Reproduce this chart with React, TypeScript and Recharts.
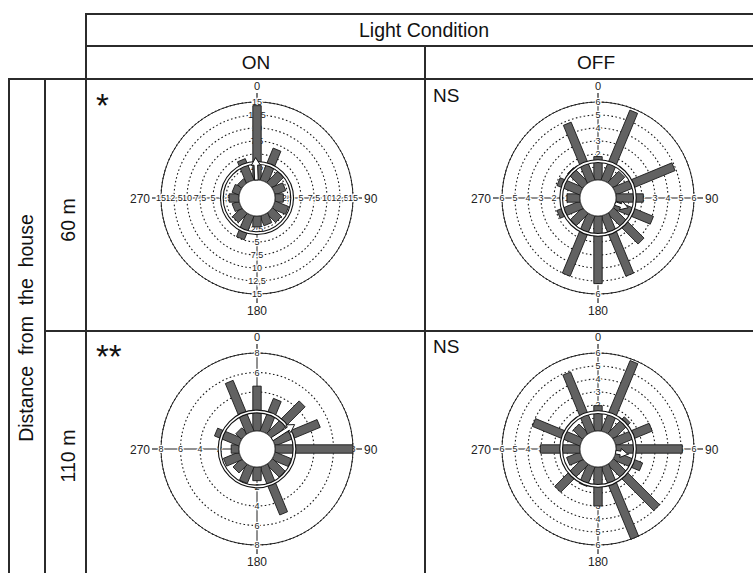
import React from 'react';
import { RadarChart, Radar, PolarGrid, PolarAngleAxis, PolarRadiusAxis } from 'recharts';

// ---------- data ----------
const directions = ['0', '22.5', '45', '67.5', '90', '112.5', '135', '157.5', '180', '202.5', '225', '247.5', '270', '292.5', '315', '337.5'];

const on60Counts = [14.3, 6.6, 3.3, 2.2, 1.6, 2.8, 2.4, 2.0, 2.1, 4.9, 2.4, 1.4, 1.9, 1.4, 1.0, 4.4];
const off60Counts = [1.8, 5.8, 1.2, 4.9, 2.1, 3.1, 3.3, 5.0, 5.2, 5.0, 1.3, 1.9, 1.0, 1.9, 1.6, 4.8];
const on110Counts = [4.6, 3.6, 4.7, 5.0, 8.0, 1.8, 1.8, 5.3, 1.4, 1.8, 1.2, 1.7, 0.8, 2.7, 0.8, 5.6];
const off110Counts = [1.95, 5.85, 1.8, 3.0, 5.1, 2.2, 5.0, 6.0, 3.0, 1.6, 3.0, 1.1, 3.05, 3.95, 1.0, 4.9];

const on60Ticks = [0, 2.5, 5, 7.5, 10, 12.5, 15];
const off60Ticks = [0, 1, 2, 3, 4, 5, 6];
const on110Ticks = [0, 2, 4, 6, 8];
const off110Ticks = [0, 1, 2, 3, 4, 5, 6];

const axisMaxima = [15, 6, 8, 6];
const ringValues = [3.3, 1.45, 2.0, 1.45];
const meanDirections = [358, 108, 57, 100];
const meanLengths = [4.3, 1.05, 2.75, 0.95];
const significance = ['*', 'NS', '**', 'NS'];
const cardinalLabels = ['0', '90', '180', '270'];

const columnLabels = ['ON', 'OFF'];
const rowLabels = ['60 m', '110 m'];
const headerTitle = 'Light Condition';
const sideTitle = 'Distance  from  the  house';

// ---------- layout ----------
const FONT = '"Liberation Sans", Arial, sans-serif';
const INNER = 18;
const OUTER = 96;
const BAR_W = 8.4;
const CHART = 260;
const MID = CHART / 2;
const panelCenters = [
  [257, 198],
  [598, 198],
  [257, 449],
  [598, 449],
];
const markPos = [
  [96, 117],
  [433, 102],
  [96, 368],
  [433, 353],
];

const countsByPanel = [on60Counts, off60Counts, on110Counts, off110Counts];
const ticksByPanel = [on60Ticks, off60Ticks, on110Ticks, off110Ticks];

const BarsShape = (props: any) => {
  const pts = props.points || [];
  return (
    <g>
      {pts.map((p: any, i: number) => {
        const a = (p.angle * Math.PI) / 180;
        const ux = Math.cos(a);
        const uy = -Math.sin(a);
        const px = -uy;
        const py = ux;
        const h = BAR_W / 2;
        const bx = p.cx + ux * INNER;
        const by = p.cy + uy * INNER;
        const d = `M${bx + px * h},${by + py * h} L${p.x + px * h},${p.y + py * h} L${p.x - px * h},${p.y - py * h} L${bx - px * h},${by - py * h} Z`;
        return <path key={i} d={d} fill="#626262" stroke="#1a1a1a" strokeWidth={0.9} />;
      })}
    </g>
  );
};

const makeRingShape = (idx: number) => (props: any) => {
  const p = props.points && props.points[0];
  if (!p) return <g />;
  const { cx, cy, radius } = p;
  const perUnit = (radius - INNER) / ringValues[idx];
  const tipR = INNER + perUnit * meanLengths[idx];
  const th = (meanDirections[idx] * Math.PI) / 180;
  const ux = Math.sin(th);
  const uy = -Math.cos(th);
  const px = -uy;
  const py = ux;
  const headL = 7.5;
  const shaftH = 1.8;
  const headH = 4.5;
  const pt = (r: number, off: number) => `${cx + ux * r + px * off},${cy + uy * r + py * off}`;
  const neck = tipR - headL;
  const arrow = `M${pt(INNER, shaftH)} L${pt(neck, shaftH)} L${pt(neck, headH)} L${pt(tipR, 0)} L${pt(neck, -headH)} L${pt(neck, -shaftH)} L${pt(INNER, -shaftH)} Z`;
  return (
    <g>
      <circle cx={cx} cy={cy} r={radius} fill="none" stroke="#111" strokeWidth={3.8} />
      <circle cx={cx} cy={cy} r={radius} fill="none" stroke="#fff" strokeWidth={1.6} />
      <circle cx={cx} cy={cy} r={INNER} fill="#fff" stroke="#333" strokeWidth={0.8} />
      <path d={arrow} fill="#fff" stroke="#111" strokeWidth={1} />
    </g>
  );
};

const AngleTick = (props: any) => {
  const { x, y, payload } = props;
  const v = payload && payload.value;
  if (!cardinalLabels.includes(v)) return <g />;
  const L = 9;
  const common = { fontSize: 12, fill: '#222', fontFamily: FONT } as any;
  if (v === '0')
    return (
      <g>
        <line x1={x} y1={y} x2={x} y2={y + L} stroke="#222" strokeWidth={1.2} />
        <text x={x} y={y - 3} textAnchor="middle" {...common} fontSize={11}>0</text>
      </g>
    );
  if (v === '180')
    return (
      <g>
        <line x1={x} y1={y - L} x2={x} y2={y} stroke="#222" strokeWidth={1.2} />
        <text x={x} y={y + 12} textAnchor="middle" {...common}>180</text>
      </g>
    );
  if (v === '90')
    return (
      <g>
        <line x1={x - L} y1={y} x2={x} y2={y} stroke="#222" strokeWidth={1.2} />
        <text x={x + 2} y={y + 4.5} textAnchor="start" {...common}>90</text>
      </g>
    );
  return (
    <g>
      <line x1={x} y1={y} x2={x + L} y2={y} stroke="#222" strokeWidth={1.2} />
      <text x={x - 2} y={y + 4.5} textAnchor="end" {...common}>270</text>
    </g>
  );
};

// the axis sits at 90 degrees; its tick label is repeated on the other three cardinal spokes
const RadiusTick = (props: any) => {
  const { x, y, payload } = props;
  if (!payload || payload.value === 0) return <g />;
  const label = String(payload.value).replace('.', ',');
  const r = MID - y;
  const spots = [
    [x, y],
    [MID + r, MID],
    [MID, MID + r],
    [MID - r, MID],
  ];
  return (
    <g>
      {spots.map((s, k) => (
        <text
          key={k}
          x={s[0]}
          y={s[1] + 3}
          textAnchor="middle"
          fontSize={9}
          fill="#222"
          stroke="#fff"
          strokeWidth={2.4}
          paintOrder="stroke"
          fontFamily={FONT}
        >
          {label}
        </text>
      ))}
    </g>
  );
};

const Panel = ({ idx }: { idx: number }) => {
  const rows = directions.map((d, i) => ({ dir: d, count: countsByPanel[idx][i], ring: ringValues[idx] }));
  const max = axisMaxima[idx];
  const [cx, cy] = panelCenters[idx];
  return (
    <div style={{ position: 'absolute', left: cx - MID, top: cy - MID, width: CHART, height: CHART }}>
      <RadarChart width={CHART} height={CHART} data={rows} innerRadius={INNER} outerRadius={OUTER} startAngle={90} endAngle={-270}>
        <PolarGrid gridType="circle" radialLines={false} stroke="#1a1a1a" strokeWidth={1.1} strokeDasharray="1.6 2.4" />
        <PolarGrid gridType="circle" polarRadius={[]} polarAngles={[0, 90, 180, 270]} radialLines={true} stroke="#222" strokeWidth={1} />
        <PolarAngleAxis
          dataKey="dir"
          axisLineType="circle"
          axisLine={{ stroke: '#222', strokeWidth: 1 }}
          tickLine={false}
          tickSize={9}
          tick={(p: any) => <AngleTick {...p} />}
        />
        <PolarRadiusAxis
          angle={90}
          type="number"
          domain={[0, max]}
          ticks={ticksByPanel[idx]}
          tickCount={ticksByPanel[idx].length}
          axisLine={false}
          tickLine={false}
          tick={(p: any) => <RadiusTick {...p} />}
        />
        <Radar dataKey="count" isAnimationActive={false} zIndex={700} shape={(p: any) => <BarsShape {...p} />} />
        <Radar dataKey="ring" isAnimationActive={false} zIndex={800} shape={makeRingShape(idx)} />
      </RadarChart>
    </div>
  );
};

export default function App() {
  const line = '#2b2b2b';
  const lw = 2;
  return (
    <div style={{ position: 'absolute', left: 0, top: 0, width: 753, height: 573, background: '#fff', overflow: 'hidden' }}>
      <svg width={753} height={573} style={{ position: 'absolute', left: 0, top: 0 }}>
        <g stroke={line} strokeWidth={lw}>
          <line x1={86} y1={14} x2={753} y2={14} />
          <line x1={86} y1={46} x2={753} y2={46} />
          <line x1={9} y1={79} x2={753} y2={79} />
          <line x1={45} y1={331} x2={753} y2={331} />
          <line x1={86} y1={13} x2={86} y2={573} />
          <line x1={425} y1={46} x2={425} y2={573} />
          <line x1={9} y1={78} x2={9} y2={573} />
          <line x1={45} y1={78} x2={45} y2={573} />
        </g>
        <text x={424} y={37} textAnchor="middle" fontSize={19.5} fontFamily={FONT} fill="#111">{headerTitle}</text>
        <text x={256} y={69} textAnchor="middle" fontSize={19} fontFamily={FONT} fill="#111">{columnLabels[0]}</text>
        <text x={596} y={69} textAnchor="middle" fontSize={19} fontFamily={FONT} fill="#111">{columnLabels[1]}</text>
        <text
          x={0}
          y={0}
          transform="translate(33,328) rotate(-90)"
          textAnchor="middle"
          fontSize={19.5}
          fontFamily={FONT}
          fill="#111"
          style={{ whiteSpace: 'pre' }}
        >
          {sideTitle}
        </text>
        <text x={0} y={0} transform="translate(75,220) rotate(-90)" textAnchor="middle" fontSize={19.5} fontFamily={FONT} fill="#111">{rowLabels[0]}</text>
        <text x={0} y={0} transform="translate(75,456) rotate(-90)" textAnchor="middle" fontSize={19.5} fontFamily={FONT} fill="#111">{rowLabels[1]}</text>
        {significance.map((s, i) => (
          <text key={i} x={markPos[i][0]} y={markPos[i][1]} fontSize={s === 'NS' ? 19 : 33} fontFamily={FONT} fill="#111">{s}</text>
        ))}
      </svg>
      {[0, 1, 2, 3].map((i) => (
        <Panel key={i} idx={i} />
      ))}
    </div>
  );
}
